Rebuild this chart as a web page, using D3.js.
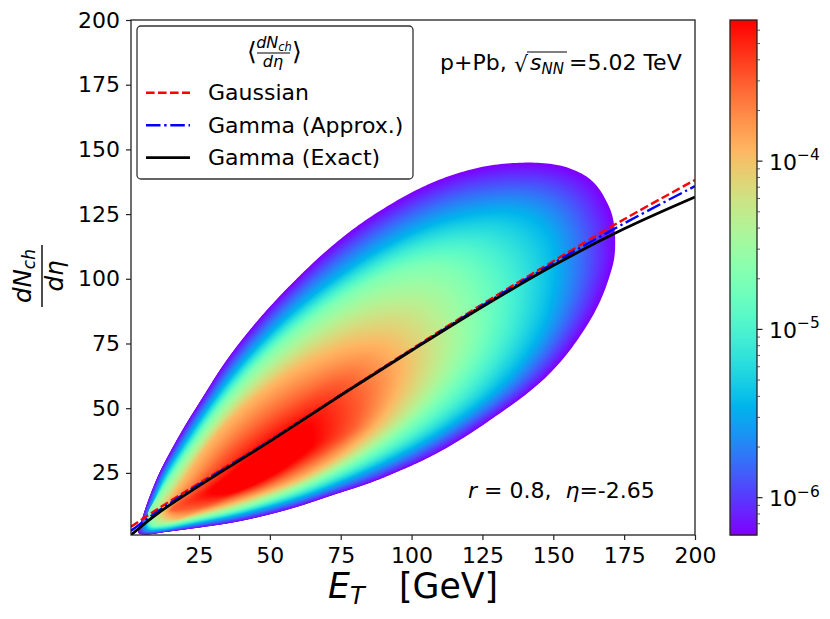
<!DOCTYPE html>
<html>
<head>
<meta charset="utf-8">
<script src="https://cdn.jsdelivr.net/npm/d3@7"></script>
<style>
html,body{margin:0;padding:0;background:#fff}
svg{display:block}
text{font-family:"DejaVu Sans",sans-serif;fill:#000;white-space:pre}
</style>
</head>
<body>
<div id="chart"></div>
<script>
// ---- values ----
const axisDomain = [1, 200];
const xTicks = [25, 50, 75, 100, 125, 150, 175, 200];
const yTicks = [25, 50, 75, 100, 125, 150, 175, 200];

const lineX        = [1, 10, 25, 50, 75, 100, 125, 150, 175, 200];
const gaussianY    = [4.2, 10.8, 21, 37.8, 55.2, 72.8, 90.2, 106.8, 123, 138.2];
const gammaApproxY = [2.6, 9.8, 20.5, 37.4, 55, 72.5, 89.7, 106, 121.4, 135.8];
const gammaExactY  = [1, 9, 20, 37.2, 55, 72.3, 89.2, 105.1, 119.3, 131.6];

const legendLabels = ["Gaussian", "Gamma (Approx.)", "Gamma (Exact)"];

const densityDomain = [6.0e-7, 6.9e-4];
const majorBarTicks = [1e-6, 1e-5, 1e-4];
const minorBarTicks = [7e-7,8e-7,9e-7,2e-6,3e-6,4e-6,5e-6,6e-6,7e-6,8e-6,9e-6,
                       2e-5,3e-5,4e-5,5e-5,6e-5,7e-5,8e-5,9e-5,2e-4,3e-4,4e-4,5e-4,6e-4];

// iso-density outlines of the heat map: [E_T, dN/deta] points
const isoDensities = [6.0e-7, 3.6e-6, 2.05e-5, 1.16e-4, 2.9e-4, 6.9e-4];
const isoEdge = [[3.6,1.8],[5.1,8],[7.5,15.7],[11,25],[15.7,34.9],[20.4,43.9],[25.7,53.2],[32.8,65.5],[38.4,74],[45.8,84],[51.5,91],[56,96.2],[67.7,108.6],[79.4,119.2],[91.4,128],[103,135],[112.5,139.4],[125.2,143.3],[137.3,144.8],[146.4,144.7],[153,143.6],[158.4,141.5],[162,139.3],[165.5,135.7],[168.5,130.5],[170.8,124.5],[171.8,116],[171.5,108],[170,101.5],[167,92.5],[163,84],[156,72.6],[148.9,63.6],[141.8,56.6],[130.2,47.3],[118.2,38.5],[106.5,31.2],[94.9,25.4],[85.7,21.3],[71.6,16.2],[60,12],[47.9,8.4],[36.3,5.7],[24.6,3.8],[13.4,2.2],[6,1.2]];
const isoBlue = [[6.3,4.9],[9,14],[13,24],[19.4,35.5],[28.2,50],[37.4,63.5],[47.6,76],[60.7,89.5],[79.4,104.8],[91.4,112.8],[103,119],[113,122.8],[124,125.2],[135,125.5],[143,122.5],[148.5,116],[150.5,107],[150,96],[147.5,85],[142,73],[132,59.5],[118.2,47],[106.5,38.5],[94.9,31.5],[85.7,26.6],[71.6,20],[60,15.3],[47.9,11.4],[36.3,8.2],[24.6,5.7],[11.2,3],[7,3.2]];
const isoGreen = [[7,8.7],[11.2,17],[17.2,27],[23.2,36.5],[30,47],[37.4,57],[45.8,67],[56.4,77.5],[67.7,87],[79.4,95],[91.4,101.5],[103,104.8],[112,104.5],[118.5,100],[122.8,91],[123.8,81],[120.7,70],[114,59],[106.5,50],[94.9,39.5],[82.9,31],[71.2,24.2],[60,18.7],[47.9,14],[36,10.2],[24.6,7.4],[12.6,4.9],[8.4,4.9]];
const isoOrange = [[13,9.5],[20.5,23.5],[28.5,36],[37,46.5],[45.8,55],[57.5,64],[69.1,70.5],[80,74.5],[90,74.5],[96.5,68],[95,57],[88,44],[80,36],[71.6,29.5],[60,22.5],[47.9,17.3],[36,13],[24.6,9.5],[16,7.4]];
const isoOrangeRed = [[15.5,11],[21,16.5],[29,26],[36.3,34.5],[47.9,45],[60,53.5],[71.6,59.5],[77.5,60],[82,53.5],[80,43],[71.6,34.5],[60,26.5],[47.9,19.8],[36.3,15.3],[25,11.6]];
const isoRed = [[29,17.5],[37.7,26],[47.2,34],[57.5,41.5],[64,43.5],[65.5,37],[57,28.5],[44.8,20.8],[35,17]];
const isoOutlines = [isoEdge, isoBlue, isoGreen, isoOrange, isoOrangeRed, isoRed];

// ---- layout ----
const W = 830, H = 619;
const plot = {l:131, r:695, t:20, b:535};
const bar = {l:730, r:757, t:20, b:535};
const FS = 22;

const svg = d3.select("#chart").append("svg").attr("width",W).attr("height",H).attr("viewBox",`0 0 ${W} ${H}`);
const x = d3.scaleLinear().domain(axisDomain).range([plot.l,plot.r]);
const y = d3.scaleLinear().domain(axisDomain).range([plot.b,plot.t]);

// matplotlib "rainbow" colormap
function rainbow(t){
  const c = v => Math.round(255*Math.max(0,Math.min(1,v)));
  return `rgb(${c(Math.abs(2*t-0.5))},${c(Math.sin(Math.PI*t))},${c(Math.cos(Math.PI*t/2))})`;
}
const color = d3.scaleSequentialLog(rainbow).domain(densityDomain);
const tOf = d3.scaleLog().domain(densityDomain).range([0,1]);

svg.append("clipPath").attr("id","plotClip").append("rect")
  .attr("x",plot.l).attr("y",plot.t).attr("width",plot.r-plot.l).attr("height",plot.b-plot.t);

// ---- heat map: nested filled outlines morphing between read iso-density lines ----
const heat = svg.append("g").attr("clip-path","url(#plotClip)");
const RAYS = 1080;
const cx = d3.mean(isoRed,d=>x(d[0])), cy = d3.mean(isoRed,d=>y(d[1]));
const closedLine = d3.line().x(d=>x(d[0])).y(d=>y(d[1])).curve(d3.curveCatmullRomClosed.alpha(0.5));
function radialProfile(outline){
  const p = svg.append("path").attr("d",closedLine(outline)).attr("fill","none").node();
  const L = p.getTotalLength(), n = 2400, samples = [];
  for(let i=0;i<n;i++){
    const q = p.getPointAtLength(L*i/n);
    let a = Math.atan2(q.y-cy,q.x-cx); if(a<0) a+=2*Math.PI;
    samples.push([a,Math.hypot(q.x-cx,q.y-cy)]);
  }
  p.remove();
  samples.sort((u,v)=>u[0]-v[0]);
  const first = samples[0], last = samples[samples.length-1];
  const s = [[last[0]-2*Math.PI,last[1]],...samples,[first[0]+2*Math.PI,first[1]]];
  const out = new Array(RAYS); let k = 0;
  for(let i=0;i<RAYS;i++){
    const a = 2*Math.PI*i/RAYS;
    while(k<s.length-2 && s[k+1][0]<a) k++;
    const f = (a-s[k][0])/Math.max(1e-9,s[k+1][0]-s[k][0]);
    out[i] = s[k][1]+(s[k+1][1]-s[k][1])*f;
  }
  return out;
}
const profiles = isoOutlines.map(radialProfile);
const levelT = isoDensities.map(tOf);
const radial = d3.line().curve(d3.curveLinearClosed);
d3.range(0,201).forEach(i=>{
  const t = Math.min(1,i/200);
  let j = d3.bisectRight(levelT,t)-1; j = Math.max(0,Math.min(levelT.length-2,j));
  const f = Math.max(0,Math.min(1,(t-levelT[j])/(levelT[j+1]-levelT[j])));
  const pts = d3.range(RAYS).map(a=>{
    const r = profiles[j][a]+(profiles[j+1][a]-profiles[j][a])*f;
    const ang = 2*Math.PI*a/RAYS;
    return [cx+r*Math.cos(ang),cy+r*Math.sin(ang)];
  });
  heat.append("path").attr("d",radial(pts)).attr("fill",rainbow(t));
});

// ---- curves ----
const curve = d3.line().x((d,i)=>x(lineX[i])).y(d=>y(d)).curve(d3.curveCatmullRom.alpha(0.5));
const curves = svg.append("g").attr("clip-path","url(#plotClip)").attr("fill","none");
const redStyle  = {stroke:"#ff0000",w:2.4,dash:"8.6,3.4"};
const blueStyle = {stroke:"#0000ff",w:2.4,dash:"14.5,3.7,2.4,3.7"};
const blackStyle= {stroke:"#000000",w:2.8,dash:null};
[[gaussianY,redStyle],[gammaApproxY,blueStyle],[gammaExactY,blackStyle]].forEach(([v,s])=>{
  curves.append("path").attr("d",curve(v)).attr("stroke",s.stroke).attr("stroke-width",s.w).attr("stroke-dasharray",s.dash);
});

// ---- axes ----
function styleAxis(g){
  g.select(".domain").remove();
  g.selectAll(".tick line").attr("stroke","#222").attr("stroke-width",1.2);
  g.selectAll(".tick text").attr("font-size",FS).attr("font-family","DejaVu Sans").attr("fill","#000");
}
svg.append("g").attr("transform",`translate(0,${plot.b})`)
  .call(d3.axisBottom(x).tickValues(xTicks).tickSize(5).tickPadding(7).tickFormat(d3.format("d"))).call(styleAxis);
svg.append("g").attr("transform",`translate(${plot.l},0)`)
  .call(d3.axisLeft(y).tickValues(yTicks).tickSize(5).tickPadding(6).tickFormat(d3.format("d"))).call(styleAxis);
svg.append("rect").attr("x",plot.l).attr("y",plot.t).attr("width",plot.r-plot.l).attr("height",plot.b-plot.t)
  .attr("fill","none").attr("stroke","#222").attr("stroke-width",1.3);

// x label
const xl = svg.append("text").attr("x",328).attr("y",598).attr("font-size",34.7);
xl.append("tspan").attr("font-style","italic").text("E");
xl.append("tspan").attr("font-style","italic").attr("font-size",24).attr("dy",6).text("T");
svg.append("text").attr("x",399).attr("y",598).attr("font-size",34.7).text("[GeV]");

// y label
const yl = svg.append("g").attr("transform","translate(0,276) rotate(-90)");
const yNum = yl.append("text").attr("x",0).attr("y",31).attr("text-anchor","middle").attr("font-size",24.5).attr("font-style","italic");
yNum.append("tspan").text("dN");
yNum.append("tspan").attr("font-size",17).attr("dy",4).text("ch");
yl.append("text").attr("x",0).attr("y",63).attr("text-anchor","middle").attr("font-size",24.5).attr("font-style","italic").text("dη");
yl.append("line").attr("x1",-31).attr("x2",31).attr("y1",42).attr("y2",42).attr("stroke","#000").attr("stroke-width",1.4);

// annotations
svg.append("text").attr("x",440).attr("y",70).attr("font-size",FS).text("p+Pb,");
svg.append("text").attr("x",514).attr("y",72).attr("font-size",FS).text("√");
svg.append("line").attr("x1",527).attr("x2",567).attr("y1",52).attr("y2",52).attr("stroke","#000").attr("stroke-width",1);
const sn = svg.append("text").attr("x",530).attr("y",70).attr("font-size",FS).attr("font-style","italic");
sn.append("tspan").text("s");
sn.append("tspan").attr("font-size",15).attr("dy",3.5).text("NN");
svg.append("text").attr("x",569).attr("y",70).attr("font-size",FS).text("=5.02 TeV");

const ann = svg.append("text").attr("x",468).attr("y",498).attr("font-size",FS);
ann.append("tspan").attr("font-style","italic").text("r");
ann.append("tspan").text(" = 0.8,  ");
ann.append("tspan").attr("font-style","italic").text("η");
ann.append("tspan").text("=-2.65");

// ---- legend ----
const lg = svg.append("g");
lg.append("rect").attr("x",137).attr("y",26).attr("width",276).attr("height",153).attr("rx",4)
  .attr("fill","#fff").attr("fill-opacity",0.9).attr("stroke","#333").attr("stroke-width",1.3);
lg.append("text").attr("x",252).attr("y",60).attr("font-size",25).attr("text-anchor","middle").text("⟨");
lg.append("text").attr("x",297).attr("y",60).attr("font-size",25).attr("text-anchor","middle").text("⟩");
const lt = lg.append("text").attr("x",274).attr("y",48).attr("font-size",16).attr("font-style","italic").attr("text-anchor","middle");
lt.append("tspan").text("dN");
lt.append("tspan").attr("font-size",11.5).attr("dy",3).text("ch");
lg.append("text").attr("x",273).attr("y",67).attr("font-size",16).attr("font-style","italic").attr("text-anchor","middle").text("dη");
lg.append("line").attr("x1",257).attr("x2",290).attr("y1",53).attr("y2",53).attr("stroke","#000").attr("stroke-width",1);
[redStyle,blueStyle,blackStyle].forEach((s,i)=>{
  const ly = 92.7+32.5*i;
  lg.append("line").attr("x1",146).attr("x2",190).attr("y1",ly).attr("y2",ly)
    .attr("stroke",s.stroke).attr("stroke-width",s.w).attr("stroke-dasharray",s.dash);
  lg.append("text").attr("x",208).attr("y",ly+7.6).attr("font-size",FS).text(legendLabels[i]);
});

// ---- colour bar ----
const by = d3.scaleLog().domain(densityDomain).range([bar.b,bar.t]);
const cb = svg.append("g");
d3.range(0,bar.b-bar.t).forEach(i=>{
  const v = by.invert(bar.b-i-0.5);
  cb.append("rect").attr("x",bar.l).attr("width",bar.r-bar.l).attr("y",bar.b-i-1).attr("height",1.4).attr("fill",color(v));
});
cb.append("rect").attr("x",bar.l).attr("y",bar.t).attr("width",bar.r-bar.l).attr("height",bar.b-bar.t)
  .attr("fill","none").attr("stroke","#222").attr("stroke-width",1.3);
cb.selectAll(".mn").data(minorBarTicks).join("line").attr("class","mn")
  .attr("x1",bar.r).attr("x2",bar.r+3).attr("y1",d=>by(d)).attr("y2",d=>by(d)).attr("stroke","#444").attr("stroke-width",0.9);
cb.selectAll(".mj").data(majorBarTicks).join("line").attr("class","mj")
  .attr("x1",bar.r).attr("x2",bar.r+5.5).attr("y1",d=>by(d)).attr("y2",d=>by(d)).attr("stroke","#222").attr("stroke-width",1.2);
majorBarTicks.forEach(d=>{
  const t = cb.append("text").attr("x",769).attr("y",by(d)+8.5).attr("font-size",FS);
  t.append("tspan").text("10");
  t.append("tspan").attr("font-size",15.4).attr("dy",-9.5).text("−"+Math.round(-Math.log10(d)));
});
</script>
</body>
</html>
